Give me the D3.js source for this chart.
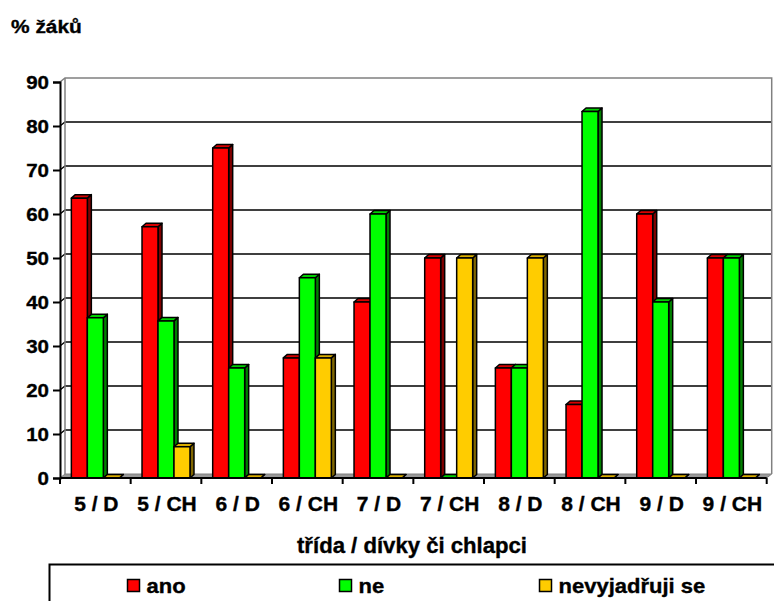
<!DOCTYPE html>
<html>
<head>
<meta charset="utf-8">
<script src="https://cdn.jsdelivr.net/npm/d3@7"></script>
<style>
  html, body { margin: 0; padding: 0; background: #fff; }
  svg { display: block; }
  text { font-family: "Liberation Sans", Arial, sans-serif; font-weight: bold; fill: #000; stroke: #000; stroke-width: 0.35px; }
</style>
</head>
<body>
<script>
// ---- data ----
const categories = ["5 / D", "5 / CH", "6 / D", "6 / CH", "7 / D", "7 / CH", "8 / D", "8 / CH", "9 / D", "9 / CH"];
const seriesNames = ["ano", "ne", "nevyjadřuji se"];
const ano = [63.6, 57.1, 75.0, 27.3, 40.0, 50.0, 25.0, 16.7, 60.0, 50.0];
const ne = [36.4, 35.7, 25.0, 45.5, 60.0, 0, 25.0, 83.3, 40.0, 50.0];
const nevyjadruji = [0, 7.1, 0, 27.3, 0, 50.0, 50.0, 0, 0, 0];
const yTicks = [0, 10, 20, 30, 40, 50, 60, 70, 80, 90];
const yTitle = "% žáků";
const xTitle = "třída / dívky či chlapci";

// ---- styles / layout ----
const W = 774, H = 601;
const colors = ["#FF0000", "#00FF00", "#FFCC00"];
const sideColors = ["#800000", "#008000", "#806600"];
const topColors = ["#D80000", "#00D000", "#D9AD00"];
const wallD = { dx: 5, dy: -4 };
const barD = { dx: 4, dy: -3.5 };

const svg = d3.select("body").append("svg").attr("width", W).attr("height", H);

const x0 = d3.scaleBand().domain(categories).range([60, 766.7]);
const x1 = d3.scaleBand().domain(seriesNames).range([0, x0.bandwidth()]).paddingInner(0).paddingOuter(0.71);
const y = d3.scaleLinear().domain([0, 90]).range([478, 82]);

const values = [ano, ne, nevyjadruji];

function stretchedText(x, yy, str, anchor, fs, sx) {
  svg.append("text")
    .attr("transform", `translate(${x},${yy}) scale(${sx},1)`)
    .attr("text-anchor", anchor)
    .style("font-size", fs + "px")
    .text(str);
}

// ---- walls ----
const xL = x0.range()[0], xR = x0.range()[1];
const yTop = y(90), yBot = y(0);
svg.append("rect")
  .attr("x", xL + wallD.dx).attr("y", yTop + wallD.dy)
  .attr("width", xR - xL).attr("height", yBot - yTop)
  .attr("fill", "#fff");
yTicks.filter(v => v > 0 && v < 90).forEach(v => {
  svg.append("path")
    .attr("d", `M${xL},${y(v)}L${xL + wallD.dx},${y(v) + wallD.dy}L${xR + wallD.dx},${y(v) + wallD.dy}`)
    .attr("fill", "none").attr("stroke", "#000").attr("stroke-width", 1.3);
});
svg.append("path")
  .attr("d", `M${xL},${yTop}L${xL + wallD.dx},${yTop + wallD.dy}L${xR + wallD.dx},${yTop + wallD.dy}L${xR + wallD.dx},${yBot + wallD.dy}`)
  .attr("fill", "none").attr("stroke", "#808080").attr("stroke-width", 1.5);
svg.append("path")
  .attr("d", `M${xL + wallD.dx},${yTop + wallD.dy}L${xL + wallD.dx},${yBot + wallD.dy}`)
  .attr("fill", "none").attr("stroke", "#808080").attr("stroke-width", 1.5);
svg.append("path")
  .attr("d", `M${xL},${yBot}L${xL + wallD.dx},${yBot + wallD.dy}L${xR + wallD.dx},${yBot + wallD.dy}L${xR},${yBot}Z`)
  .attr("fill", "#999").attr("stroke", "#808080").attr("stroke-width", 1);

// ---- bars ----
const bw = x1.bandwidth();
const gBars = svg.append("g");
categories.forEach((c, i) => {
  seriesNames.forEach((s, k) => {
    const v = values[k][i];
    const bx = x0(c) + x1(s);
    const by = y(v);
    const g = gBars.append("g").attr("stroke", "#000").attr("stroke-width", 1.5).attr("stroke-linejoin", "round");
    g.append("path")
      .attr("d", `M${bx + bw},${by}L${bx + bw + barD.dx},${by + barD.dy}L${bx + bw + barD.dx},${yBot + barD.dy}L${bx + bw},${yBot}Z`)
      .attr("fill", sideColors[k]);
    g.append("path")
      .attr("d", `M${bx},${by}L${bx + barD.dx},${by + barD.dy}L${bx + bw + barD.dx},${by + barD.dy}L${bx + bw},${by}Z`)
      .attr("fill", topColors[k]);
    g.append("rect")
      .attr("x", bx).attr("y", by).attr("width", bw).attr("height", yBot - by)
      .attr("fill", colors[k]);
  });
});

// ---- axes ----
const yAxis = d3.axisLeft(y).tickValues(yTicks).tickSize(7).tickFormat("");
svg.append("g").attr("transform", `translate(${xL},0)`).call(yAxis)
  .call(g => g.selectAll("line,path").attr("stroke", "#000").attr("stroke-width", 2));

const xAxis = d3.axisBottom(x0).tickSize(0).tickFormat("");
const gx = svg.append("g").attr("transform", `translate(0,${yBot})`).call(xAxis);
gx.select(".domain").attr("stroke", "#000").attr("stroke-width", 2).attr("d", `M${xL},0H${xR}`);
categories.concat([null]).forEach((c) => {
  const tx = c ? x0(c) : xR;
  gx.append("line").attr("x1", tx).attr("x2", tx).attr("y1", 0).attr("y2", 6)
    .attr("stroke", "#000").attr("stroke-width", 2);
});

// tick labels
yTicks.forEach(v => stretchedText(49, y(v) + 6.8, String(v), "end", 19, 1.08));
categories.forEach(c => stretchedText(x0(c) + x0.bandwidth() / 2 + 1, 511, c, "middle", 20, 1.05));

// titles
stretchedText(11, 33, yTitle, "start", 19, 1.1);
stretchedText(412, 553, xTitle, "middle", 21.5, 1.03);

// ---- legend ----
svg.append("rect")
  .attr("x", 49.5).attr("y", 564.5).attr("width", 760).attr("height", 80)
  .attr("fill", "#fff").attr("stroke", "#000").attr("stroke-width", 2);
const legendX = [127.5, 339.5, 539.5];
seriesNames.forEach((s, k) => {
  svg.append("rect")
    .attr("x", legendX[k]).attr("y", 579.5).attr("width", 12).attr("height", 12)
    .attr("fill", colors[k]).attr("stroke", "#000").attr("stroke-width", 1.5);
  stretchedText(legendX[k] + 19, 593, s, "start", 20, 1.1);
});
</script>
</body>
</html>
